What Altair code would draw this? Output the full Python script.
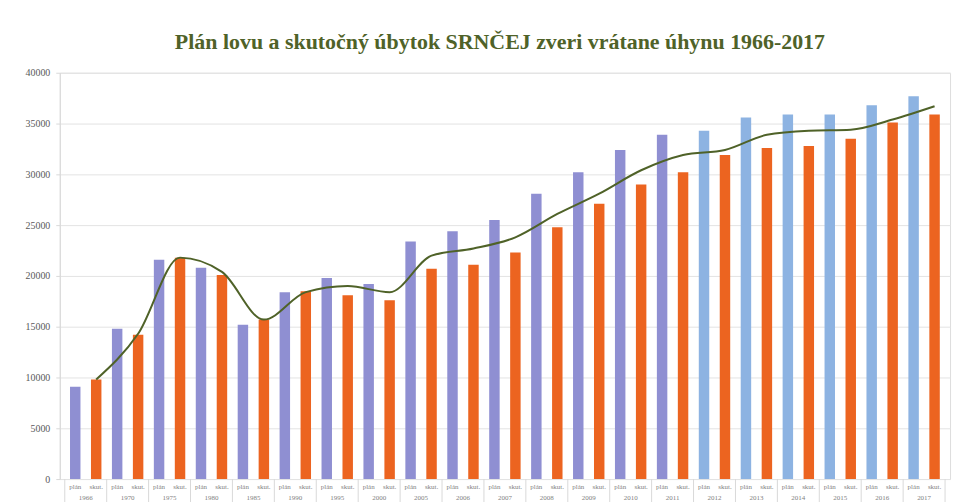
import altair as alt
import pandas as pd

# ---- data ----
years = ["1966", "1970", "1975", "1980", "1985", "1990", "1995", "2000",
         "2005", "2006", "2007", "2008", "2009", "2010", "2011", "2012",
         "2013", "2014", "2015", "2016", "2017"]
plan = [9100, 14800, 21600, 20800, 15200, 18400, 19800, 19200,
        23400, 24400, 25500, 28100, 30200, 32400, 33900, 34300,
        35600, 35900, 35900, 36800, 37700]
actual = [9800, 14200, 21800, 20100, 15700, 18500, 18100, 17600,
          20700, 21100, 22300, 24800, 27100, 29000, 30200, 31900,
          32600, 32800, 33500, 35100, 35900]
trend = [9800, 14300, 21800, 20400, 15700, 18400, 19000, 18400,
         22000, 22700, 23800, 26100, 28100, 30400, 31900, 32400,
         33900, 34300, 34400, 35400, 36700]
inner_labels = ["plán", "skut."]
late_from = "2012"   # plan bars from this year drawn in lighter blue

W, H = 894, 408
SERIF = "Liberation Serif"

bar_rows, lab_rows, line_rows, year_rows, sep_rows = [], [], [], [], []
for i, y in enumerate(years):
    idx = i + 1
    ptone = "plan_late" if int(y) >= int(late_from) else "plan"
    bar_rows.append({"pos": idx - 0.25, "val": plan[i], "tone": ptone})
    bar_rows.append({"pos": idx + 0.25, "val": actual[i], "tone": "actual"})
    lab_rows.append({"pos": idx - 0.25, "txt": inner_labels[0]})
    lab_rows.append({"pos": idx + 0.25, "txt": inner_labels[1]})
    line_rows.append({"pos": idx + 0.25, "val": trend[i]})
    year_rows.append({"pos": idx, "txt": y})
for k in range(len(years) + 1):
    sep_rows.append({"pos": k + 0.5})

xscale = alt.Scale(domain=[0.5, len(years) + 0.5], nice=False, zero=False)
yscale = alt.Scale(domain=[0, 40000], nice=False)

bars = alt.Chart(pd.DataFrame(bar_rows)).mark_bar(size=10.5).encode(
    x=alt.X("pos:Q", scale=xscale, axis=None),
    y=alt.Y("val:Q", scale=yscale, title=None,
            axis=alt.Axis(values=list(range(0, 40001, 5000)), format="d",
                          labelFont=SERIF, labelFontSize=10, labelColor="#595959",
                          labelPadding=6, tickSize=4, tickColor="#d9d9d9",
                          domainColor="#d9d9d9", gridColor="#e3e3e3")),
    color=alt.Color("tone:N", legend=None,
                    scale=alt.Scale(domain=["plan", "plan_late", "actual"],
                                    range=["#8F8FD2", "#8DB3E2", "#EC6420"])),
)

line = alt.Chart(pd.DataFrame(line_rows)).mark_line(
    interpolate="monotone", color="#4F6228", strokeWidth=2
).encode(x=alt.X("pos:Q", scale=xscale), y=alt.Y("val:Q", scale=yscale))

inner = alt.Chart(pd.DataFrame(lab_rows)).mark_text(
    font=SERIF, fontSize=7, color="#7f7f7f", baseline="middle"
).encode(x=alt.X("pos:Q", scale=xscale), y=alt.value(H + 8), text="txt:N")

yr = alt.Chart(pd.DataFrame(year_rows)).mark_text(
    font=SERIF, fontSize=7, color="#7f7f7f", baseline="middle"
).encode(x=alt.X("pos:Q", scale=xscale), y=alt.value(H + 19), text="txt:N")

seps = alt.Chart(pd.DataFrame(sep_rows)).mark_rule(color="#d9d9d9").encode(
    x=alt.X("pos:Q", scale=xscale), y=alt.value(H), y2=alt.value(H + 26)
)

chart = alt.layer(bars, seps, line, inner, yr).properties(
    width=W, height=H,
    title=alt.TitleParams(
        "Plán lovu a skutočný úbytok SRNČEJ zveri vrátane úhynu 1966-2017",
        font=SERIF, fontSize=22, fontWeight="bold", color="#4F6228",
        anchor="middle", offset=14, dx=-5),
    autosize=alt.AutoSizeParams(type="none"),
    padding={"left": 52, "top": 64, "right": 8, "bottom": 22},
).configure_view(strokeWidth=0).configure(background="white")

chart.save("out.html", embed_options={"renderer": "svg", "actions": False})
